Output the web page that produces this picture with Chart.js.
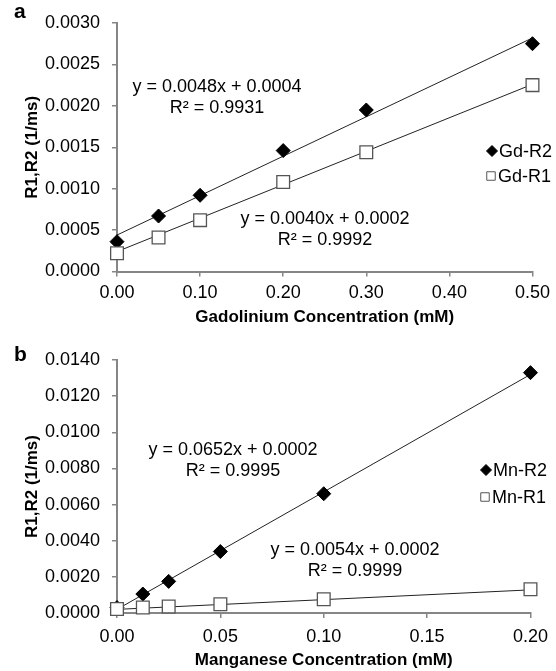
<!DOCTYPE html>
<html>
<head>
<meta charset="utf-8">
<script src="https://cdn.jsdelivr.net/npm/chart.js@4.4.1/dist/chart.umd.min.js"></script>
<style>
  html, body { margin: 0; padding: 0; background: #fff; }
  #wrap { position: relative; width: 556px; height: 671px; }
  canvas { position: absolute; left: 0; }
  #chartA { top: 0; }
  #chartB { top: 335px; }
</style>
</head>
<body>
<div id="wrap">
  <canvas id="chartA" width="556" height="335"></canvas>
  <canvas id="chartB" width="556" height="336"></canvas>
</div>
<script>
// =============================
// Dados
// =============================
const gdConc = [0, 0.05, 0.10, 0.20, 0.30, 0.50];
const gdR2 = [0.00036, 0.00067, 0.00092, 0.00146, 0.00195, 0.00275];
const gdR1 = [0.00022, 0.00041, 0.00062, 0.00108, 0.00144, 0.00225];

const mnConc = [0, 0.0125, 0.025, 0.05, 0.10, 0.20];
const mnR2 = [0.0003, 0.00105, 0.00175, 0.0034, 0.0066, 0.0133];
const mnR1 = [0.00022, 0.0003, 0.00036, 0.00048, 0.00076, 0.00131];

// linhas de tendência (extremos)
const gdFitX = [0, 0.5];
const gdR2Fit = [0.00044, 0.00282];
const gdR1Fit = [0.00024, 0.00226];
const mnFitX = [0, 0.2];
const mnR2Fit = [0.0002, 0.0132];
const mnR1Fit = [0.0002, 0.00128];

const gdEqR2 = ["y = 0.0048x + 0.0004", "R² = 0.9931"];
const gdEqR1 = ["y = 0.0040x + 0.0002", "R² = 0.9992"];
const mnEqR2 = ["y = 0.0652x + 0.0002", "R² = 0.9995"];
const mnEqR1 = ["y = 0.0054x + 0.0002", "R² = 0.9999"];

const FONT = "'Liberation Sans', Arial, sans-serif";
const AXIS_GREY = "#868686";
const SQUARE_GREY = "#555";

const pts = (xs, ys) => xs.map((x, i) => ({ x, y: ys[i] }));

// =============================
// Plugin: letra do painel, equações e legenda
// =============================
const extras = {
  id: "extras",
  afterDraw(chart, args, opts) {
    const c = chart.ctx;
    c.save();
    c.fillStyle = "#000";
    c.textBaseline = "middle";
    // letra do painel
    c.font = "bold 21px " + FONT;
    c.textAlign = "left";
    c.fillText(opts.letter, opts.letterPos[0], opts.letterPos[1]);
    // equações
    c.font = "18px " + FONT;
    c.textAlign = "center";
    opts.equations.forEach(eq => {
      c.fillText(eq.lines[0], eq.x, eq.y);
      c.fillText(eq.lines[1], eq.x, eq.y + 21);
    });
    // legenda
    opts.legend.forEach(item => {
      c.fillStyle = item.fill;
      c.strokeStyle = item.stroke;
      c.lineWidth = 1;
      Chart.helpers.drawPoint(c, {
        pointStyle: item.style, radius: item.radius, borderWidth: 1
      }, item.x, item.y);
      c.fillStyle = "#000";
      c.textAlign = "left";
      c.fillText(item.label, item.x + 7, item.y + 1);
    });
    c.restore();
  }
};

function eixo(texto, min, max, step, casas, extra) {
  return Object.assign({
    type: "linear",
    min, max,
    ticks: {
      stepSize: step,
      color: "#000",
      padding: 12,
      font: { family: FONT, size: 18 },
      callback: v => Number(v).toFixed(casas)
    },
    grid: { drawOnChartArea: false, color: AXIS_GREY, tickLength: 5, lineWidth: 1.5 },
    border: { color: AXIS_GREY, width: 2 },
    title: {
      display: true, text: texto, color: "#000",
      font: { family: FONT, size: 17, weight: "bold" }
    }
  }, extra);
}

function desenharPainel(canvas, cfg) {
  const x = eixo(cfg.xTitle, 0, cfg.xMax, cfg.xStep, 2, {
    afterFit: s => { s.height = cfg.xHeight; }
  });
  x.ticks.padding = cfg.xTickPad;
  x.title.padding = { top: 0, bottom: cfg.xTitlePad };
  const y = eixo("R1,R2 (1/ms)", 0, cfg.yMax, cfg.yStep, 4, {
    afterFit: s => { s.width = 117; }
  });
  y.title.padding = { top: 22, bottom: 0 };

  return new Chart(canvas, {
    type: "scatter",
    data: {
      datasets: [
        {
          label: cfg.names[1], data: pts(cfg.xs, cfg.r1), order: 0, clip: false,
          pointStyle: "rect", pointRadius: 9, pointBackgroundColor: "#fff",
          pointBorderColor: SQUARE_GREY, pointBorderWidth: 1.3
        },
        {
          label: cfg.names[0], data: pts(cfg.xs, cfg.r2), order: 1, clip: false,
          pointStyle: "rectRot", pointRadius: 7, pointBackgroundColor: "#000",
          pointBorderColor: "#000", pointBorderWidth: 1
        },
        {
          label: "fit R2", data: pts(cfg.fitX, cfg.fitR2), order: 2, showLine: true,
          borderColor: "#222", borderWidth: 1, pointRadius: 0, clip: false
        },
        {
          label: "fit R1", data: pts(cfg.fitX, cfg.fitR1), order: 2, showLine: true,
          borderColor: "#222", borderWidth: 1, pointRadius: 0, clip: false
        }
      ]
    },
    options: {
      responsive: false,
      devicePixelRatio: 1,
      animation: false,
      layout: { padding: { top: cfg.top, right: 19, left: 0, bottom: 0 } },
      plugins: {
        legend: { display: false },
        tooltip: { enabled: false },
        extras: cfg.extras
      },
      scales: { x, y }
    },
    plugins: [extras]
  });
}

desenharPainel(document.getElementById("chartA"), {
  xs: gdConc, r2: gdR2, r1: gdR1,
  fitX: gdFitX, fitR2: gdR2Fit, fitR1: gdR1Fit,
  names: ["Gd-R2", "Gd-R1"],
  xTitle: "Gadolinium Concentration (mM)",
  xMax: 0.5, xStep: 0.1, yMax: 0.003, yStep: 0.0005,
  top: 23, xHeight: 63.5, xTickPad: 6, xTitlePad: 7,
  extras: {
    letter: "a", letterPos: [14, 12],
    equations: [
      { lines: gdEqR2, x: 217, y: 87 },
      { lines: gdEqR1, x: 325, y: 219 }
    ],
    legend: [
      { style: "rectRot", radius: 5.5, fill: "#000", stroke: "#000", label: "Gd-R2", x: 492, y: 151 },
      { style: "rect", radius: 6, fill: "#fff", stroke: SQUARE_GREY, label: "Gd-R1", x: 491, y: 176 }
    ]
  }
});

desenharPainel(document.getElementById("chartB"), {
  xs: mnConc, r2: mnR2, r1: mnR1,
  fitX: mnFitX, fitR2: mnR2Fit, fitR1: mnR1Fit,
  names: ["Mn-R2", "Mn-R1"],
  xTitle: "Manganese Concentration (mM)",
  xMax: 0.2, xStep: 0.05, yMax: 0.014, yStep: 0.002,
  top: 25, xHeight: 58, xTickPad: 8, xTitlePad: 0,
  extras: {
    letter: "b", letterPos: [14, 20],
    equations: [
      { lines: mnEqR2, x: 233, y: 115 },
      { lines: mnEqR1, x: 355, y: 215 }
    ],
    legend: [
      { style: "rectRot", radius: 5.5, fill: "#000", stroke: "#000", label: "Mn-R2", x: 486, y: 135 },
      { style: "rect", radius: 6, fill: "#fff", stroke: SQUARE_GREY, label: "Mn-R1", x: 485, y: 162 }
    ]
  }
});
</script>
</body>
</html>
